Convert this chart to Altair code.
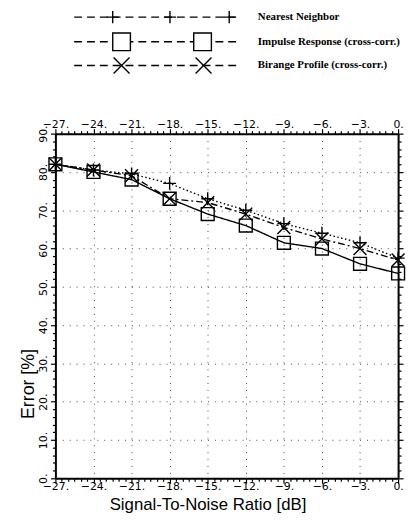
import altair as alt
import pandas as pd

# ---- data ----
snr = [-27, -24, -21, -18, -15, -12, -9, -6, -3, 0]
nearest = [82, 80.5, 79.5, 77, 73, 70, 66.5, 64, 61.5, 57.5]
impulse = [82, 80, 78, 73, 69, 66, 61.5, 60, 56, 53.5]
birange = [82, 80.5, 79, 73, 72, 69, 65.5, 62.5, 60, 57]
series_names = ["Nearest Neighbor", "Impulse Response (cross-corr.)", "Birange Profile (cross-corr.)"]
x_tick_values = [-27 + 0.5 * i for i in range(55)]
y_tick_values = list(range(0, 91, 2))

rows = []
for name, vals in zip(series_names, [nearest, impulse, birange]):
    for x, y in zip(snr, vals):
        rows.append({"series": name, "snr": x, "error": y})
df = pd.DataFrame(rows)

PLUS = "M-1,0L1,0M0,-1L0,1"
XSH = "M-1,-1L1,1M-1,1L1,-1"
FONT = "DejaVu Sans"

xs = alt.Scale(domain=[-27, 0], nice=False, zero=False)
ys = alt.Scale(domain=[0, 90], nice=False, zero=False)

xmaj = "abs(datum.value % 3) < 0.01"
ymaj = "datum.value % 10 == 0"


def xaxis(orient, title=None, **kw):
    return alt.Axis(
        orient=orient, values=x_tick_values,
        labelExpr=f"{xmaj} ? format(datum.value, 'd') + '.' : ''",
        tickSize={"condition": {"test": xmaj, "value": 5}, "value": 3},
        grid=(orient == "bottom"), gridDash=[1, 6], gridColor="#333",
        gridOpacity={"condition": {"test": xmaj, "value": 0.9}, "value": 0},
        domainColor="black", domainWidth=2, tickColor="black", tickWidth=1.2,
        labelFont=FONT, labelFontSize=11, labelColor="black", labelOverlap=False,
        labelFlush=False, labelBound=False, title=title, **kw)


def yaxis(orient, title=None, **kw):
    return alt.Axis(
        orient=orient, values=y_tick_values,
        labelExpr=f"{ymaj} ? format(datum.value, 'd') + '.' : ''",
        tickSize={"condition": {"test": ymaj, "value": 5}, "value": 3},
        grid=(orient == "left"), gridDash=[1, 6], gridColor="#333",
        gridOpacity={"condition": {"test": ymaj, "value": 0.9}, "value": 0},
        domainColor="black", domainWidth=2, tickColor="black", tickWidth=1.2,
        labelFont=FONT, labelFontSize=11, labelColor="black", labelOverlap=False,
        labelFlush=False, labelBound=False, labelAngle=270, labelAlign="center",
        labelBaseline=("bottom" if orient == "left" else "top"),
        title=title, **kw)


x_bottom = xaxis("bottom", "Signal-To-Noise Ratio [dB]", labelPadding=-3,
                 titleFont="Liberation Sans", titleFontSize=17, titleFontWeight="normal",
                 titleX=154, titleY=27, titleBaseline="middle", titleColor="black")
y_left = yaxis("left", "Error [%]", labelPadding=2,
               titleFont="Liberation Sans", titleFontSize=18, titleFontWeight="normal",
               titleAngle=270, titleX=-27, titleY=253, titleAlign="center",
               titleBaseline="middle", titleColor="black")

base = alt.Chart(df)

lines = base.mark_line(color="black", strokeWidth=1.4).encode(
    x=alt.X("snr:Q", scale=xs, axis=x_bottom),
    y=alt.Y("error:Q", scale=ys, axis=y_left),
    strokeDash=alt.StrokeDash("series:N", scale=alt.Scale(
        domain=series_names, range=[[1.5, 2.5], [1, 0], [7, 3, 2, 3]]), legend=None),
    detail="series:N",
)

points = base.mark_point(filled=False, color="black", strokeWidth=1.4, size=170, opacity=1).encode(
    x=alt.X("snr:Q", scale=xs, axis=x_bottom),
    y=alt.Y("error:Q", scale=ys, axis=y_left),
    shape=alt.Shape("series:N", scale=alt.Scale(domain=series_names, range=[PLUS, "square", XSH]), legend=None),
)

# ---- manual legend above the plot ----
legend_rows_y = [-118, -93, -69]
legend_marker_x = [[58, 116, 176], [67, 149], [67, 150]]
legend_shapes = [PLUS, "square", XSH]
legend_sizes = [150, 320, 260]
legend_layers = []
one = pd.DataFrame({"k": [0]})
for i, name in enumerate(series_names):
    yv = legend_rows_y[i]
    legend_layers.append(alt.Chart(one).mark_rule(color="black", strokeWidth=1.4, strokeDash=[8, 5]).encode(
        x=alt.value(19), x2=alt.value(184), y=alt.value(yv)))
    for mx in legend_marker_x[i]:
        legend_layers.append(alt.Chart(one).mark_point(
            filled=True, fill="white", stroke="black", strokeWidth=1.4, opacity=1,
            shape=legend_shapes[i], size=legend_sizes[i]).encode(x=alt.value(mx), y=alt.value(yv)))
    legend_layers.append(alt.Chart(pd.DataFrame({"label": [name]})).mark_text(
        align="left", baseline="middle", font="Liberation Serif", fontWeight="bold",
        fontSize=11, color="black").encode(x=alt.value(205), y=alt.value(yv), text="label:N"))

inner = alt.layer(lines, points, *legend_layers)

mirror = base.mark_point(opacity=0).encode(
    x=alt.X("snr:Q", scale=xs, axis=xaxis("top", None, labelPadding=-1)),
    y=alt.Y("error:Q", scale=ys, axis=yaxis("right", None, labelPadding=3)),
)

chart = alt.layer(inner, mirror).resolve_scale(x="independent", y="independent").properties(
    width=347, height=349,
    autosize=alt.AutoSizeParams(type="none"),
    padding={"left": 48, "top": 124, "right": 8, "bottom": 40},
).configure_view(stroke=None).configure(background="white")

chart.save("out.html", embed_options={"renderer": "svg", "actions": False})
